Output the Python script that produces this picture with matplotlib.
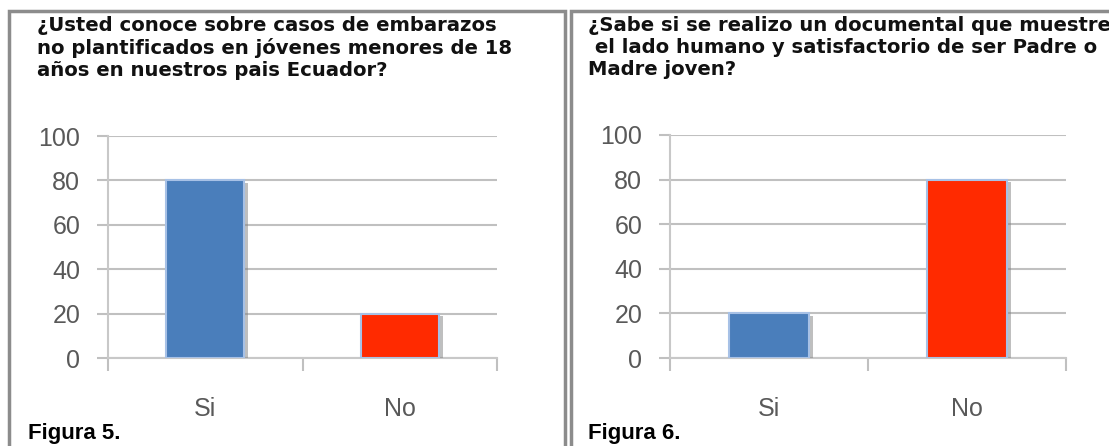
import matplotlib
matplotlib.use("Agg")
import matplotlib.pyplot as plt
import matplotlib.patheffects as pe
from matplotlib.patches import Rectangle

W, H = 1109, 446

categories = ["Si", "No"]
values_fig5 = [80, 20]
values_fig6 = [20, 80]
bar_colors = ["#4A7EBB", "#FF2A00"]
y_ticks = [0, 20, 40, 60, 80, 100]

title_fig5 = ("¿Usted conoce sobre casos de embarazos\n"
              "no plantificados en jóvenes menores de 18\n"
              "años en nuestros pais Ecuador?")
title_fig6 = ("¿Sabe si se realizo un documental que muestre\n"
              " el lado humano y satisfactorio de ser Padre o\n"
              "Madre joven?")

plt.rcParams['font.family'] = ['Liberation Sans', 'DejaVu Sans']

fig = plt.figure(figsize=(W / 100, H / 100), dpi=100)


def fx(px):
    return px / W


def fy(py):
    return 1 - py / H


def draw_panel(text_x, values, title, caption, axes_box):
    left, top, right, bottom = axes_box
    ax = fig.add_axes([fx(left), fy(bottom), fx(right - left), (bottom - top) / H])
    x = list(range(len(categories)))
    bars = ax.bar(x, values, width=0.4, color=bar_colors,
                  edgecolor="#A7C1E6", linewidth=1.5, zorder=3)
    for b in bars:
        b.set_path_effects([pe.SimplePatchShadow(offset=(3, -2), shadow_rgbFace="#808080", alpha=0.5),
                            pe.Normal()])
    ax.set_xlim(-0.5, 1.5)
    ax.set_ylim(0, 100)
    ax.set_yticks(y_ticks)
    ax.set_yticklabels([str(t) for t in y_ticks], fontsize=18, color="#595959")
    ax.set_xticks([-0.5, 0.5, 1.5])
    ax.set_xticklabels(["", "", ""])
    ax.set_xticks(x, minor=True)
    ax.set_xticklabels(categories, minor=True, fontsize=18, color="#595959")
    ax.tick_params(axis="x", which="major", length=9, width=1.5, color="#C0C0C0")
    ax.tick_params(axis="x", which="minor", length=0, pad=28)
    ax.tick_params(axis="y", length=8, width=1.5, color="#C0C0C0", pad=12)
    ax.grid(axis="y", color="#C0C0C0", linewidth=1.5, zorder=0)
    ax.set_axisbelow(True)
    for s in ["top", "right"]:
        ax.spines[s].set_visible(False)
    for s in ["left", "bottom"]:
        ax.spines[s].set_color("#C8C8C8")
        ax.spines[s].set_linewidth(1.5)

    fig.text(fx(text_x[0]), fy(16), title, ha="left", va="top", fontsize=14.1,
             family="DejaVu Sans", fontweight="bold", color="#111111", linespacing=1.2)
    fig.text(fx(text_x[1]), fy(433), caption, ha="left", va="center", fontsize=16,
             fontweight="bold", color="#000000")


# panel borders
fig.patches.append(Rectangle((fx(9), fy(470)), fx(556), (470 - 11) / H,
                             transform=fig.transFigure, fill=False,
                             edgecolor="#8C8C8C", linewidth=2.5))
fig.patches.append(Rectangle((fx(571), fy(470)), fx(600), (470 - 11) / H,
                             transform=fig.transFigure, fill=False,
                             edgecolor="#8C8C8C", linewidth=2.5))

draw_panel((37, 28), values_fig5, title_fig5, "Figura 5.", (108, 136, 497, 358))
draw_panel((588, 588), values_fig6, title_fig6, "Figura 6.", (670, 135, 1066, 358))

fig.savefig("out.png", dpi=100)
